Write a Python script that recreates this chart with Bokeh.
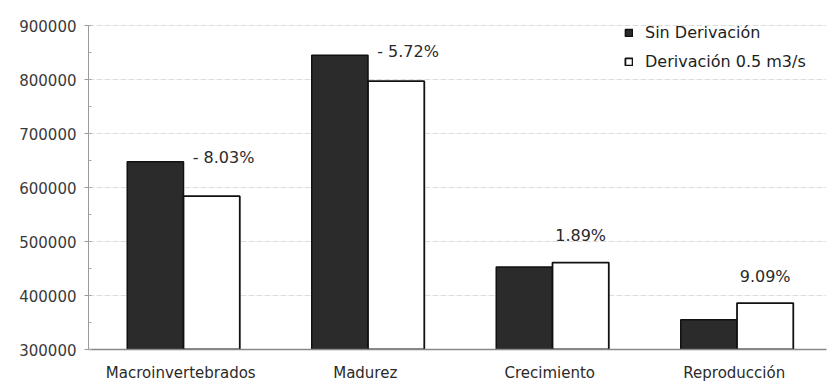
from bokeh.plotting import figure
from bokeh.models import (ColumnDataSource, FactorRange, Range1d, Legend, LegendItem,
                          SingleIntervalTicker, NumeralTickFormatter)
from bokeh.transform import dodge
from bokeh.core.properties import value
from bokeh.embed import file_html
from bokeh.resources import INLINE

# Data
categories = ["Macroinvertebrados", "Madurez", "Crecimiento", "Reproducción"]
sin_derivacion = [648000, 845000, 453000, 355000]
derivacion_05 = [584000, 797000, 461000, 386000]
cambio = ["- 8.03%", "- 5.72%", "1.89%", "9.09%"]
y_ticks_min, y_ticks_max = 300000, 900000

FONT = "DejaVu Sans"
BAR_W = 0.305
SPLIT = 0.015  # position of the boundary between the paired bars

src = ColumnDataSource(dict(cat=categories, sin=sin_derivacion, con=derivacion_05,
                            lbl=cambio))

# a little headroom above the last tick leaves space for the legend
p = figure(width=838, height=384, x_range=FactorRange(*categories),
           y_range=Range1d(y_ticks_min, y_ticks_max + 15000),
           output_backend="svg", toolbar_location=None,
           min_border_left=88, min_border_right=12, min_border_top=17, min_border_bottom=34)
p.outline_line_color = None
p.background_fill_color = "white"
p.border_fill_color = "white"

r_sin = p.vbar(x=dodge("cat", SPLIT - BAR_W / 2, range=p.x_range), top="sin",
               bottom=y_ticks_min, width=BAR_W, source=src,
               fill_color="#2b2b2b", line_color="#111111", line_width=1.5)
r_con = p.vbar(x=dodge("cat", SPLIT + BAR_W / 2, range=p.x_range), top="con",
               bottom=y_ticks_min, width=BAR_W, source=src,
               fill_color="white", line_color="#111111", line_width=1.8)

# Percentage-change labels: decreases sit beside the taller dark bar,
# increases sit above the white bar.
neg = [i for i, s in enumerate(cambio) if s.strip().startswith("-")]
pos = [i for i in range(len(cambio)) if i not in neg]
src_neg = ColumnDataSource(dict(cat=[categories[i] for i in neg],
                                y=[sin_derivacion[i] for i in neg],
                                lbl=[cambio[i] for i in neg]))
src_pos = ColumnDataSource(dict(cat=[categories[i] for i in pos],
                                y=[derivacion_05[i] for i in pos],
                                lbl=[cambio[i] for i in pos]))
p.text(x=dodge("cat", SPLIT + 0.05, range=p.x_range), y="y", text="lbl", source=src_neg,
       text_align="left", text_baseline="middle", y_offset=-4,
       text_font=value(FONT), text_font_size="16px", text_color="#2a2a2a")
p.text(x=dodge("cat", SPLIT + BAR_W / 2, range=p.x_range), y="y", text="lbl", source=src_pos,
       text_align="center", text_baseline="middle", y_offset=-27,
       text_font=value(FONT), text_font_size="16px", text_color="#2a2a2a")

# Axes
yax = p.yaxis[0]
yax.bounds = (y_ticks_min, y_ticks_max)
yax.ticker = SingleIntervalTicker(interval=100000, num_minor_ticks=2)
yax.formatter = NumeralTickFormatter(format="0")
yax.axis_line_color = "#9a9a9a"
yax.major_tick_line_color = "#9a9a9a"
yax.minor_tick_line_color = "#aaaaaa"
yax.major_tick_out = 4
yax.major_tick_in = 3
yax.minor_tick_out = 0
yax.minor_tick_in = 3
yax.major_label_standoff = 8
yax.major_label_text_font = FONT
yax.major_label_text_font_size = "15px"
yax.major_label_text_color = "#3a3a3a"

xax = p.xaxis[0]
xax.axis_line_color = "#888888"
xax.axis_line_width = 1.5
xax.major_tick_line_color = None
xax.minor_tick_line_color = None
xax.major_tick_out = 0
xax.major_tick_in = 0
xax.major_label_standoff = 14
xax.major_label_text_font = FONT
xax.major_label_text_font_size = "15px"
xax.major_label_text_color = "#2a2a2a"

p.xgrid.grid_line_color = None
p.ygrid.grid_line_color = "#dedede"
p.ygrid.grid_line_dash = "6 2"
p.ygrid.bounds = (y_ticks_min, y_ticks_max)

legend = Legend(items=[LegendItem(label="Sin Derivación", renderers=[r_sin]),
                       LegendItem(label="Derivación 0.5 m3/s", renderers=[r_con])],
                location=(536, 278), orientation="vertical",
                glyph_width=9, glyph_height=9, label_standoff=12,
                label_height=20, spacing=9, padding=0, margin=0,
                border_line_color=None, background_fill_alpha=0,
                label_text_font=FONT, label_text_font_size="16px",
                label_text_color="#1e1e1e")
p.add_layout(legend, "center")

open("out.html", "w").write(file_html(p, INLINE))
